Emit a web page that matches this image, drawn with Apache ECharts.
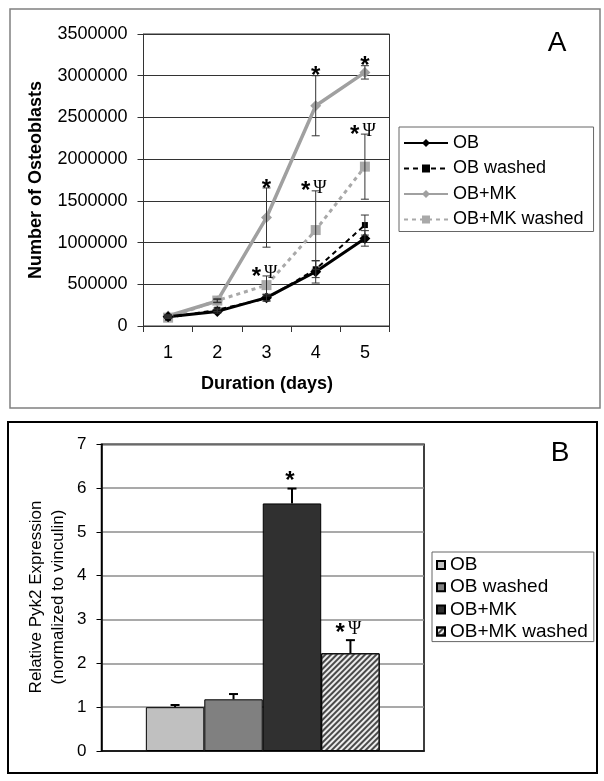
<!DOCTYPE html>
<html>
<head>
<meta charset="utf-8">
<script src="https://cdn.jsdelivr.net/npm/echarts@6/dist/echarts.min.js"></script>
<style>
html,body{margin:0;padding:0;background:#fff;}
#c{width:604px;height:781px;}
</style>
</head>
<body>
<div id="c"></div>
<script>
// ---------- Panel A data ----------
const days = ['1', '2', '3', '4', '5'];
const seriesNames = ['OB', 'OB washed', 'OB+MK', 'OB+MK washed'];
const obCount = [110000, 175000, 340000, 650000, 1050000];
const obErr = [15000, 20000, 40000, 135000, 93000];
const obWashedCount = [100000, 195000, 330000, 680000, 1210000];
const obWashedErr = [10000, 20000, 30000, 100000, 120000];
const mkCount = [120000, 300000, 1300000, 2640000, 3040000];
const mkErr = [15000, 20000, 355000, 360000, 80000];
const mkWashedCount = [100000, 305000, 490000, 1150000, 1910000];
const mkWashedErr = [10000, 20000, 110000, 470000, 390000];
const mkSig = ['', '', '*', '*', '*'];
const mkWashedSig = ['', '', '*Ψ', '*Ψ', '*Ψ'];
const yTicksA = { min: 0, max: 3500000, interval: 500000 };

// ---------- Panel B data ----------
const pyk2 = [1.0, 1.18, 5.65, 2.23];
const pyk2Err = [0.05, 0.12, 0.34, 0.30];
const pyk2Sig = ['', '', '*', '*Ψ'];
const yTicksB = { min: 0, max: 7, interval: 1 };

const FONT = '"Liberation Sans", Arial, sans-serif';
const SERIF = '"Liberation Serif", "Times New Roman", serif';
const BAR_GAP = 0.275;

const sigRich = {
  s: { fontSize: 24, fontWeight: 'bold', fontFamily: FONT, fill: '#000', color: '#000' },
  p: { fontSize: 18, fontFamily: SERIF, fill: '#000', color: '#000', padding: [0, 0, 8, 3] }
};
function sigText(sig) {
  return sig.replace('*', '{s|*}').replace('Ψ', '{p|Ψ}');
}

function errorSeriesA(name, vals, errs, sigs, color) {
  return {
    type: 'custom', name: name, xAxisIndex: 0, yAxisIndex: 0, z: 5,
    data: days.map((d, i) => [i, vals[i], errs[i]]),
    encode: { x: 0, y: 1 },
    renderItem: function (params, api) {
      const i = params.dataIndex;
      const v = api.value(1), e = api.value(2);
      const top = api.coord([api.value(0), v + e]);
      const bot = api.coord([api.value(0), v - e]);
      const hw = 4;
      const ls = { stroke: color, lineWidth: 1 };
      const children = [
        { type: 'line', shape: { x1: top[0], y1: top[1], x2: bot[0], y2: bot[1] }, style: ls },
        { type: 'line', shape: { x1: top[0] - hw, y1: top[1], x2: top[0] + hw, y2: top[1] }, style: ls },
        { type: 'line', shape: { x1: bot[0] - hw, y1: bot[1], x2: bot[0] + hw, y2: bot[1] }, style: ls }
      ];
      const sig = sigs[i];
      if (sig) {
        const dx = sig.length > 1 ? -2 : 0;
        children.push({
          type: 'text', x: top[0] + dx, y: top[1] + 1,
          style: { text: sigText(sig), rich: sigRich, align: 'center', verticalAlign: 'middle',
                   textAlign: 'center', textVerticalAlign: 'middle' }
        });
      }
      return { type: 'group', children: children };
    }
  };
}

function lineSeries(name, vals, opts) {
  return Object.assign({
    type: 'line', name: name, xAxisIndex: 0, yAxisIndex: 0,
    data: vals, showSymbol: true, animation: false
  }, opts);
}

const barColors = ['#c0c0c0', '#808080', '#303030', '#ececec'];
const barNames = seriesNames.map(n => n + '#B');

function barSeries(i) {
  const itemStyle = { color: barColors[i], borderColor: '#000', borderWidth: 1 };
  if (i === 3) {
    itemStyle.decal = {
      symbol: 'rect', symbolSize: 1, dashArrayX: [1, 0], dashArrayY: [1.2, 1.8],
      rotation: -Math.PI / 4, color: '#4a4a4a'
    };
  }
  return {
    type: 'bar', name: barNames[i], xAxisIndex: 1, yAxisIndex: 1,
    data: [pyk2[i]], barGap: '0%', barCategoryGap: (BAR_GAP * 100) + '%',
    itemStyle: itemStyle, emphasis: { disabled: true }
  };
}

const errSeriesB = {
  type: 'custom', name: 'errB', xAxisIndex: 1, yAxisIndex: 1, z: 5,
  data: pyk2.map((v, i) => [0, v, pyk2Err[i]]),
  encode: { x: 0, y: 1 },
  renderItem: function (params, api) {
    const i = params.dataIndex;
    const v = api.value(1), e = api.value(2);
    const bw = api.size([1, 0])[0];
    const barW = bw * (1 - BAR_GAP) / pyk2.length;
    const c0 = api.coord([0, v]);
    const c1 = api.coord([0, v + e]);
    const x = c0[0] + (i - (pyk2.length - 1) / 2) * barW;
    const hw = 4.5;
    const ls = { stroke: '#000', lineWidth: 2 };
    const children = [
      { type: 'line', shape: { x1: x, y1: c0[1], x2: x, y2: c1[1] }, style: ls },
      { type: 'line', shape: { x1: x - hw, y1: c1[1], x2: x + hw, y2: c1[1] }, style: ls }
    ];
    const sig = pyk2Sig[i];
    if (sig) {
      children.push({
        type: 'text', x: x - 2, y: c1[1] - 7,
        style: { text: sigText(sig), rich: sigRich, align: 'center', verticalAlign: 'middle',
                 textAlign: 'center', textVerticalAlign: 'middle' }
      });
    }
    return { type: 'group', children: children };
  }
};

const option = {
  animation: false,
  backgroundColor: '#fff',
  textStyle: { fontFamily: FONT, color: '#000' },
  grid: [
    { left: 143.5, top: 34, width: 246, height: 292, show: true, borderColor: '#333', borderWidth: 1 },
    { left: 101.5, top: 444.3, width: 322.5, height: 306.7, show: true, borderColor: '#000', borderWidth: 1.5 }
  ],
  xAxis: [
    { gridIndex: 0, type: 'category', data: days, boundaryGap: true,
      axisLine: { lineStyle: { color: '#333', width: 1 } },
      axisTick: { show: true, length: 6, lineStyle: { color: '#333' } },
      axisLabel: { fontSize: 18, color: '#000', margin: 18, fontFamily: FONT },
      splitLine: { show: false } },
    { gridIndex: 1, type: 'category', data: ['Pyk2'],
      axisLine: { lineStyle: { color: '#000', width: 1.5 } },
      axisTick: { show: false }, axisLabel: { show: false }, splitLine: { show: false } }
  ],
  yAxis: [
    { gridIndex: 0, type: 'value', min: yTicksA.min, max: yTicksA.max, interval: yTicksA.interval,
      axisLine: { show: true, lineStyle: { color: '#333', width: 1 } },
      axisTick: { show: true, length: 6, lineStyle: { color: '#333' } },
      splitLine: { show: true, lineStyle: { color: '#333', width: 1 } },
      axisLabel: { fontSize: 18, color: '#000', margin: 16, fontFamily: FONT, formatter: v => String(v) } },
    { gridIndex: 1, type: 'value', min: yTicksB.min, max: yTicksB.max, interval: yTicksB.interval,
      axisLine: { show: true, lineStyle: { color: '#000', width: 1.5 } },
      axisTick: { show: true, length: 5, lineStyle: { color: '#000' } },
      splitLine: { show: true, lineStyle: { color: '#8c8c8c', width: 1.5 } },
      axisLabel: { fontSize: 17, color: '#000', margin: 15, fontFamily: FONT, formatter: v => String(v) } }
  ],
  legend: [
    { data: seriesNames, orient: 'vertical', left: 399, top: 127,
      itemWidth: 44, itemHeight: 10, itemGap: 5.5, padding: [6, 10, 2, 4],
      borderColor: '#666', borderWidth: 1, selectedMode: false,
      textStyle: { fontSize: 18, lineHeight: 20, color: '#000', fontFamily: FONT } },
    { data: barNames, orient: 'vertical', left: 432, top: 552,
      itemWidth: 8, itemHeight: 8, itemGap: 2.2, padding: [3, 6, 0, 4], icon: 'rect',
      borderColor: '#666', borderWidth: 1, selectedMode: false,
      formatter: n => n.split('#')[0],
      textStyle: { fontSize: 19, lineHeight: 20, color: '#000', fontFamily: FONT } }
  ],
  graphic: [
    { type: 'rect', shape: { x: 10, y: 9, width: 590, height: 399 },
      style: { fill: 'none', stroke: '#808080', lineWidth: 1.5 }, silent: true },
    { type: 'rect', shape: { x: 8, y: 422, width: 589, height: 351 },
      style: { fill: 'none', stroke: '#000', lineWidth: 2 }, silent: true },
    { type: 'text', x: 557, y: 43,
      style: { text: 'A', font: '28px ' + FONT, fill: '#000', textAlign: 'center', textVerticalAlign: 'middle', align: 'center', verticalAlign: 'middle' } },
    { type: 'text', x: 560, y: 453,
      style: { text: 'B', font: '28px ' + FONT, fill: '#000', textAlign: 'center', textVerticalAlign: 'middle', align: 'center', verticalAlign: 'middle' } },
    { type: 'text', x: 36, y: 180, rotation: Math.PI / 2,
      style: { text: 'Number of Osteoblasts', font: 'bold 18px ' + FONT, fill: '#000', textAlign: 'center', textVerticalAlign: 'middle', align: 'center', verticalAlign: 'middle' } },
    { type: 'text', x: 267, y: 384,
      style: { text: 'Duration (days)', font: 'bold 18px ' + FONT, fill: '#000', textAlign: 'center', textVerticalAlign: 'middle', align: 'center', verticalAlign: 'middle' } },
    { type: 'text', x: 47, y: 597, rotation: Math.PI / 2,
      style: { text: 'Relative Pyk2 Expression\n(normalized to vinculin)', font: '17px ' + FONT, lineHeight: 22, fill: '#000', textAlign: 'center', textVerticalAlign: 'middle', align: 'center', verticalAlign: 'middle' } }
  ],
  series: [
    lineSeries('OB+MK washed', mkWashedCount, {
      symbol: 'rect', symbolSize: 10, itemStyle: { color: '#a9a9a9' },
      lineStyle: { color: '#a9a9a9', width: 3, type: [4, 4] } }),
    lineSeries('OB+MK', mkCount, {
      symbol: 'diamond', symbolSize: 11, itemStyle: { color: '#a0a0a0' },
      lineStyle: { color: '#a0a0a0', width: 3.5 } }),
    lineSeries('OB washed', obWashedCount, {
      symbol: 'rect', symbolSize: 6, itemStyle: { color: '#000' },
      lineStyle: { color: '#000', width: 2, type: [5, 4] } }),
    lineSeries('OB', obCount, {
      symbol: 'diamond', symbolSize: 11, itemStyle: { color: '#000' },
      lineStyle: { color: '#000', width: 3 } }),
    errorSeriesA('errMKW', mkWashedCount, mkWashedErr, mkWashedSig, '#333'),
    errorSeriesA('errMK', mkCount, mkErr, mkSig, '#333'),
    errorSeriesA('errOBW', obWashedCount, obWashedErr, ['', '', '', '', ''], '#333'),
    errorSeriesA('errOB', obCount, obErr, ['', '', '', '', ''], '#333'),
    barSeries(0), barSeries(1), barSeries(2), barSeries(3),
    errSeriesB
  ]
};

const chart = echarts.init(document.getElementById('c'), null, { renderer: 'canvas' });
chart.setOption(option);
</script>
</body>
</html>
